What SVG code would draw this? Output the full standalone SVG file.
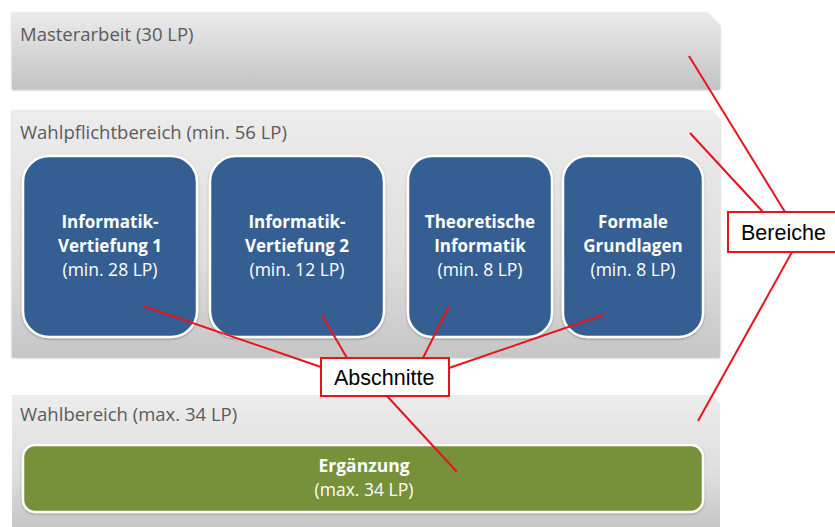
<svg xmlns="http://www.w3.org/2000/svg" width="835" height="527" viewBox="0 0 835 527">
<defs>
<linearGradient id="band" x1="0" y1="0" x2="0" y2="1">
<stop offset="0" stop-color="#ececec"/>
<stop offset="1" stop-color="#c3c3c3"/>
</linearGradient>
<linearGradient id="band2" x1="0" y1="0" x2="0" y2="1">
<stop offset="0" stop-color="#ececec"/>
<stop offset="0.6" stop-color="#dedede"/>
<stop offset="1" stop-color="#c6c6c6"/>
</linearGradient>
<filter id="sh" x="-5%" y="-5%" width="110%" height="115%">
<feDropShadow dx="0" dy="1" stdDeviation="1" flood-color="#000" flood-opacity="0.3"/>
</filter>
</defs>
<style>
.title{font-family:"Open Sans","Noto Sans",sans-serif;font-size:18.5px;fill:#5b5b5b}
.blue{fill:#365f92;stroke:#ffffff;stroke-width:2.5}
.green{fill:#77913b;stroke:#ffffff;stroke-width:2.5}
.bt{font-family:"Open Sans","Noto Sans",sans-serif;font-size:17.5px;fill:#ffffff;text-anchor:middle}
.b{font-weight:bold;font-size:17px}
.callout{fill:#ffffff;stroke:#e8141b;stroke-width:2}
.ct{font-family:"Liberation Sans",Arial,sans-serif;font-size:21.5px;fill:#000000}
.red{stroke:#e8141b;stroke-width:2;fill:none}
</style>
<g id="masterarbeit">
<path d="M12 12 H707 L720 25 V89 H12 Z" fill="url(#band)" filter="url(#sh)"/>
<text class="title" x="20" y="41">Masterarbeit (30 LP)</text>
</g>
<g id="wahlpflichtbereich">
<path d="M12 110 H711 L720 119 V357 H12 Z" fill="url(#band2)" filter="url(#sh)"/>
<text class="title" x="20" y="139">Wahlpflichtbereich (min. 56 LP)</text>
</g>
<g id="wahlbereich">
<path d="M12 395 H712 L720 403 V527 H12 Z" fill="url(#band2)"/>
<text class="title" x="20" y="421">Wahlbereich (max. 34 LP)</text>
</g>
<g id="vertiefung1">
<rect class="blue" x="23" y="156" width="174" height="181" rx="26" filter="url(#sh)"/>
<text class="bt b" x="110" y="228">Informatik-</text>
<text class="bt b" x="110" y="252">Vertiefung 1</text>
<text class="bt" x="110" y="276">(min. 28 LP)</text>
</g>
<g id="vertiefung2">
<rect class="blue" x="210" y="156" width="174" height="181" rx="26" filter="url(#sh)"/>
<text class="bt b" x="297" y="228">Informatik-</text>
<text class="bt b" x="297" y="252">Vertiefung 2</text>
<text class="bt" x="297" y="276">(min. 12 LP)</text>
</g>
<g id="theoretische">
<rect class="blue" x="408" y="156" width="144" height="181" rx="24" filter="url(#sh)"/>
<text class="bt b" x="480" y="228">Theoretische</text>
<text class="bt b" x="480" y="252">Informatik</text>
<text class="bt" x="480" y="276">(min. 8 LP)</text>
</g>
<g id="formale">
<rect class="blue" x="563" y="156" width="140" height="181" rx="24" filter="url(#sh)"/>
<text class="bt b" x="633" y="228">Formale</text>
<text class="bt b" x="633" y="252">Grundlagen</text>
<text class="bt" x="633" y="276">(min. 8 LP)</text>
</g>
<g id="ergaenzung">
<rect class="green" x="23" y="445" width="680" height="67" rx="12" filter="url(#sh)"/>
<text class="bt b" x="364" y="472" style="font-size:17.5px">Ergänzung</text>
<text class="bt" x="364" y="496">(max. 34 LP)</text>
</g>
<g id="connectors">
<line class="red" x1="689" y1="56" x2="785" y2="212"/>
<line class="red" x1="690" y1="133" x2="763" y2="212"/>
<line class="red" x1="792" y1="252" x2="698" y2="421"/>
<line class="red" x1="143" y1="306" x2="321" y2="367"/>
<line class="red" x1="322" y1="315" x2="347" y2="358"/>
<line class="red" x1="449" y1="306" x2="423" y2="358"/>
<line class="red" x1="603" y1="315" x2="449" y2="368"/>
<line class="red" x1="387" y1="396" x2="457" y2="472"/>
</g>
<g id="bereiche">
<rect class="callout" x="728" y="212" width="110" height="40"/>
<text class="ct" x="741" y="240">Bereiche</text>
</g>
<g id="abschnitte">
<rect class="callout" x="321" y="358" width="128" height="38"/>
<text class="ct" x="334" y="385">Abschnitte</text>
</g>
</svg>
